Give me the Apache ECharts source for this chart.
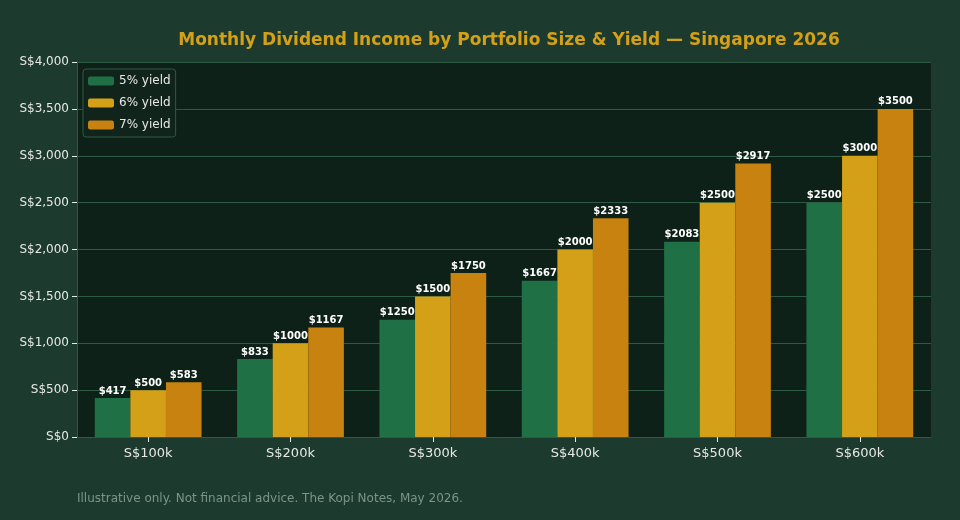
<!DOCTYPE html>
<html>
<head>
<meta charset="utf-8">
<script src="https://cdn.jsdelivr.net/npm/echarts@6/dist/echarts.min.js"></script>
<style>html,body{margin:0;padding:0;background:#1c3a2e;}#chart{width:960px;height:520px;}</style>
</head>
<body>
<div id="chart"></div>
<script>
var categories = ['S$100k', 'S$200k', 'S$300k', 'S$400k', 'S$500k', 'S$600k'];
var yield5 = [417, 833, 1250, 1667, 2083, 2500];
var yield6 = [500, 1000, 1500, 2000, 2500, 3000];
var yield7 = [583, 1167, 1750, 2333, 2917, 3500];

var chart = echarts.init(document.getElementById('chart'));

function barSeries(name, data, color) {
    return {
        name: name,
        type: 'bar',
        data: data,
        barGap: '0%',
        barCategoryGap: '25%',
        itemStyle: {color: color},
        label: {
            show: true,
            position: 'top',
            distance: 2,
            color: '#ffffff',
            fontWeight: 'bold',
            fontSize: 10,
            formatter: function (p) { return '$' + p.value; }
        }
    };
}

chart.setOption({
    backgroundColor: '#1c3a2e',
    textStyle: {fontFamily: 'DejaVu Sans'},
    title: {
        text: 'Monthly Dividend Income by Portfolio Size & Yield \u2014 Singapore 2026',
        left: 504,
        textAlign: 'center',
        top: 27,
        textStyle: {color: '#d4a017', fontSize: 17, fontWeight: 'bold'}
    },
    graphic: [{
        type: 'text',
        left: 77,
        top: 493,
        style: {text: 'Illustrative only. Not financial advice. The Kopi Notes, May 2026.', fill: '#7d9488', fontSize: 12, fontFamily: 'DejaVu Sans'}
    }],
    legend: {
        orient: 'vertical',
        left: 83,
        top: 69,
        itemWidth: 26,
        itemHeight: 9,
        itemGap: 10,
        padding: [6, 5, 6, 5],
        backgroundColor: '#10241b',
        borderColor: '#2e5a43',
        borderWidth: 1,
        borderRadius: 3,
        textStyle: {color: '#e8e8e8', fontSize: 12},
        data: ['5% yield', '6% yield', '7% yield']
    },
    grid: {left: 77, right: 29, top: 62, bottom: 83, show: true, backgroundColor: '#0e2119', borderWidth: 0},
    xAxis: {
        type: 'category',
        data: categories,
        axisLine: {lineStyle: {color: '#2e5a43'}},
        axisTick: {show: true, alignWithLabel: true, lineStyle: {color: '#e8e8e8'}},
        axisLabel: {color: '#e8e8e8', fontSize: 13, margin: 10}
    },
    yAxis: {
        type: 'value',
        min: 0,
        max: 4000,
        interval: 500,
        axisLine: {show: true, lineStyle: {color: '#2e5a43'}},
        axisTick: {show: true, lineStyle: {color: '#e8e8e8'}},
        axisLabel: {
            color: '#e8e8e8',
            fontSize: 12,
            formatter: function (v) { return 'S$' + v.toLocaleString('en-US'); }
        },
        splitLine: {lineStyle: {color: '#2e5a43'}}
    },
    series: [
        barSeries('5% yield', yield5, '#1f7145'),
        barSeries('6% yield', yield6, '#d4a017'),
        barSeries('7% yield', yield7, '#c8820f')
    ]
});
</script>
</body>
</html>
